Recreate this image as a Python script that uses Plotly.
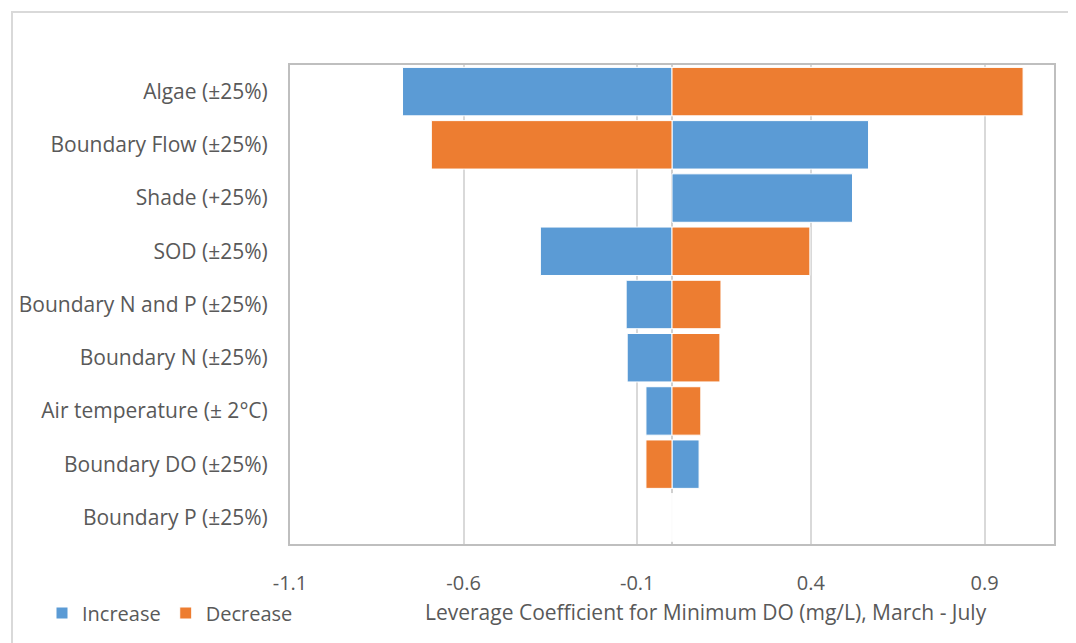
import plotly.graph_objects as go

categories = ["Algae (±25%)", "Boundary Flow (±25%)", "Shade (+25%)", "SOD (±25%)",
              "Boundary N and P (±25%)", "Boundary N (±25%)", "Air temperature (± 2°C)",
              "Boundary DO (±25%)", "Boundary P (±25%)"]
increase = [-0.776, 0.566, 0.520, -0.379, -0.132, -0.129, -0.075, 0.078, 0.0]
decrease = [1.011, -0.693, 0.0, 0.397, 0.141, 0.138, 0.083, -0.075, 0.0]
tick_vals = [-1.1, -0.6, -0.1, 0.4, 0.9]
tick_text = ["-1.1", "-0.6", "-0.1", "0.4", "0.9"]

BLUE = "#5B9BD5"
ORANGE = "#ED7D31"
TXT = "#595959"
FONT = "Open Sans"
FS = 20

# page offset of 8px (body margin) is compensated in the margins
L, R, T, B = 282, 22, 57, 98
W, H = 1068, 635
PW = W - L - R   # plot width in px
PH = H - T - B   # plot height in px

def px_x(x):
    return (x - 8 - L) / PW

def px_y(y):
    return (H - B - (y - 8)) / PH

fig = go.Figure()
fig.add_trace(go.Bar(y=categories, x=increase, orientation="h", name="Increase",
                     marker=dict(color=BLUE, line=dict(color="white", width=1))))
fig.add_trace(go.Bar(y=categories, x=decrease, orientation="h", name="Decrease",
                     marker=dict(color=ORANGE, line=dict(color="white", width=1))))

fig.update_layout(
    width=W, height=H,
    barmode="relative", bargap=0.09,
    paper_bgcolor="white", plot_bgcolor="white",
    margin=dict(l=L, r=R, t=T, b=B),
    font=dict(family=FONT, size=FS, color=TXT),
    showlegend=True,
    legend=dict(orientation="h", x=px_x(42), y=px_y(613), xanchor="left", yanchor="middle",
                font=dict(family=FONT, size=FS, color=TXT), itemwidth=30,
                traceorder="normal"),
    xaxis=dict(range=[-1.1, 1.1], tickvals=tick_vals, ticktext=tick_text,
               showgrid=True, gridcolor="#D9D9D9", gridwidth=1.5,
               zeroline=True, zerolinecolor="#D0D0D0", zerolinewidth=2,
               showline=True, linecolor="#BFBFBF", linewidth=2, mirror=True,
               ticks="", ticklabelstandoff=20,
               tickfont=dict(family=FONT, size=FS, color=TXT)),
    yaxis=dict(autorange="reversed", showgrid=False, zeroline=False,
               showline=True, linecolor="#BFBFBF", linewidth=2, mirror=True,
               ticks="", ticklabelstandoff=16,
               tickfont=dict(family=FONT, size=21, color=TXT)),
    annotations=[dict(text="Leverage Coefficient for Minimum DO (mg/L), March - July",
                      xref="paper", yref="paper", x=px_x(706), y=px_y(613),
                      xanchor="center", yanchor="middle", showarrow=False,
                      font=dict(family=FONT, size=21, color=TXT))],
    shapes=[dict(type="rect", xref="paper", yref="paper",
                 x0=px_x(12), x1=px_x(1090),
                 y0=px_y(660), y1=px_y(12),
                 line=dict(color="#D9D9D9", width=2), layer="below")],
)

fig.write_html("out.html")
